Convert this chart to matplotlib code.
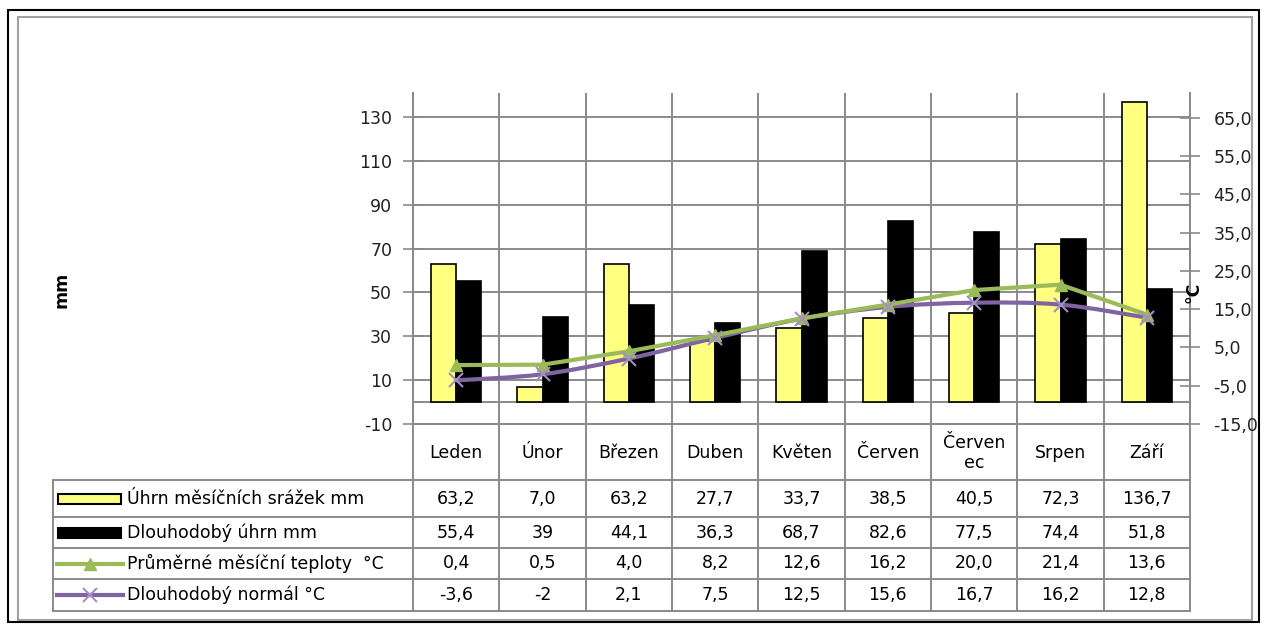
import matplotlib
matplotlib.use("Agg")
import matplotlib.pyplot as plt
import matplotlib.transforms as mtransforms
from matplotlib.lines import Line2D
from matplotlib.patches import Rectangle, PathPatch
from matplotlib.path import Path
from matplotlib.ticker import FuncFormatter
import numpy as np

plt.rcParams["font.family"] = ["DejaVu Sans"]
plt.rcParams["axes.unicode_minus"] = False

# data
months = ["Leden", "Únor", "Březen", "Duben", "Květen", "Červen", "Červen\nec", "Srpen", "Září"]
precip = [63.2, 7.0, 63.2, 27.7, 33.7, 38.5, 40.5, 72.3, 136.7]
precip_long = [55.4, 39, 44.1, 36.3, 68.7, 82.6, 77.5, 74.4, 51.8]
temp = [0.4, 0.5, 4.0, 8.2, 12.6, 16.2, 20.0, 21.4, 13.6]
temp_normal = [-3.6, -2, 2.1, 7.5, 12.5, 15.6, 16.7, 16.2, 12.8]
series_names = ["Úhrn měsíčních srážek mm", "Dlouhodobý úhrn mm",
                "Průměrné měsíční teploty  °C", "Dlouhodobý normál °C"]

YELLOW = "#FFFF80"
GREEN = "#9BBB59"
PURPLE = "#8064A2"
XMARK = "#A48FC4"
GRID = "#8A8A8A"
FS = 12.5

W, H = 1266, 624


def fx(px):
    return px / W


def fy(py):
    return 1 - py / H


def fmt_val(v):
    # integers in the lists are shown without decimals, like in the source table
    return str(v) if isinstance(v, int) else f"{v:.1f}".replace(".", ",")


fig = plt.figure(figsize=(W / 100, H / 100), dpi=100)
ax = fig.add_axes([fx(413), fy(424), fx(1190) - fx(413), fy(93) - fy(424)])
ax2 = ax.twinx()

x = np.arange(len(months))
bw = 0.29
ax.bar(x - bw / 2, precip, bw, color=YELLOW, edgecolor="black", linewidth=1.2, zorder=3)
ax.bar(x + bw / 2, precip_long, bw, color="black", edgecolor="black", linewidth=1.2, zorder=3)

ax.set_xlim(-0.5, len(months) - 0.5)
ax.set_ylim(-10, 141)
ax.set_yticks(np.arange(-10, 131, 20))
ax.set_xticks([])
ax.yaxis.grid(True, color=GRID, linewidth=1.4)
ax.set_axisbelow(True)
ax.axhline(0, color=GRID, linewidth=1.4, zorder=1)
for b in x[:-1] + 0.5:
    ax.axvline(b, color=GRID, linewidth=1.4, zorder=1)

ax2.set_ylim(-15, 71.5)
ax2.set_yticks(np.arange(-15, 66, 10))
ax2.yaxis.set_major_formatter(FuncFormatter(lambda v, p: f"{v:.1f}".replace(".", ",")))

for a in (ax, ax2):
    a.spines["top"].set_visible(False)
    for s in ("left", "right", "bottom"):
        a.spines[s].set_color(GRID)
        a.spines[s].set_linewidth(1.4)
ax.tick_params(axis="y", direction="inout", length=14, width=1.2, color=GRID,
               labelsize=FS, pad=8, labelcolor="#222222")
ax2.tick_params(axis="y", direction="inout", length=14, width=1.2, color=GRID,
                labelsize=FS, pad=10, labelcolor="#222222")

# temperature lines
ax2.plot(x, temp, color=GREEN, linewidth=3, marker="^", markersize=9, zorder=5)
ax2.set_zorder(ax.get_zorder() + 1)
ax2.patch.set_visible(False)

# smoothed long-term normal (Catmull-Rom as bezier path)
pts = np.column_stack([x, temp_normal]).astype(float)
ext = np.vstack([pts[0], pts, pts[-1]])
verts = [pts[0]]
codes = [Path.MOVETO]
for i in range(1, len(ext) - 2):
    p0, p1, p2, p3 = ext[i - 1], ext[i], ext[i + 1], ext[i + 2]
    verts += [p1 + (p2 - p0) / 6, p2 - (p3 - p1) / 6, p2]
    codes += [Path.CURVE4] * 3
ax2.add_patch(PathPatch(Path(verts, codes), facecolor="none", edgecolor=PURPLE,
                        linewidth=3, zorder=4))
ax2.plot(x, temp_normal, linestyle="none", marker="x", markersize=10,
         markeredgewidth=1.5, color=XMARK, zorder=6)

# axis titles
fig.text(fx(62), fy(290), "mm", rotation=90, ha="center", va="center",
         fontsize=FS, fontweight="bold")
fig.text(fx(1193), fy(292), "°C", rotation=90, ha="center", va="center",
         fontsize=FS, fontweight="bold")

# data table below the plot
bt = mtransforms.blended_transform_factory(ax.transData, fig.transFigure)
row_y = [480, 517, 548, 579, 611]
edges = np.arange(len(months) + 1) - 0.5
for e in edges:
    fig.add_artist(Line2D([e, e], [fy(424), fy(611)], transform=bt, color=GRID, linewidth=1.4))
for ry in row_y:
    fig.add_artist(Line2D([fx(53), fx(1190)], [fy(ry), fy(ry)], color=GRID, linewidth=1.4))
fig.add_artist(Line2D([fx(53), fx(53)], [fy(480), fy(611)], color=GRID, linewidth=1.4))

for xi, m in zip(x, months):
    fig.text(xi, fy(453), m, transform=bt, ha="center", va="center", fontsize=FS,
             linespacing=1.2)


def row_mid(r):
    return (row_y[r] + row_y[r + 1]) / 2


rows = [precip, precip_long, temp, temp_normal]
for r, vals in enumerate(rows):
    yc = fy(row_mid(r))
    for xi, v in zip(x, vals):
        fig.text(xi, yc, fmt_val(v), transform=bt, ha="center", va="center", fontsize=FS)
    fig.text(fx(127), yc, series_names[r], ha="left", va="center", fontsize=FS)

# legend keys
fig.add_artist(Rectangle((fx(58), fy(row_mid(0) + 5)), fx(63), fy(0) - fy(10),
                         facecolor=YELLOW, edgecolor="black", linewidth=1.5))
fig.add_artist(Rectangle((fx(58), fy(row_mid(1) + 5)), fx(63), fy(0) - fy(10),
                         facecolor="black", edgecolor="black", linewidth=1.5))
fig.add_artist(Line2D([fx(57), fx(123)], [fy(row_mid(2))] * 2, color=GREEN, linewidth=3))
fig.add_artist(Line2D([fx(90)], [fy(row_mid(2))], color=GREEN, marker="^", markersize=9,
                      linestyle="none"))
fig.add_artist(Line2D([fx(57), fx(123)], [fy(row_mid(3))] * 2, color=PURPLE, linewidth=3))
fig.add_artist(Line2D([fx(90)], [fy(row_mid(3))], color=XMARK, marker="x", markersize=10,
                      markeredgewidth=1.5, linestyle="none"))

# chart frame
fig.add_artist(Rectangle((fx(8), fy(622)), fx(1259) - fx(8), fy(10) - fy(622),
                         facecolor="none", edgecolor="black", linewidth=1.5))
fig.add_artist(Rectangle((fx(18), fy(620)), fx(1252) - fx(18), fy(17) - fy(620),
                         facecolor="none", edgecolor="#A0A0A0", linewidth=1.5))

fig.savefig("out.png", dpi=100)
